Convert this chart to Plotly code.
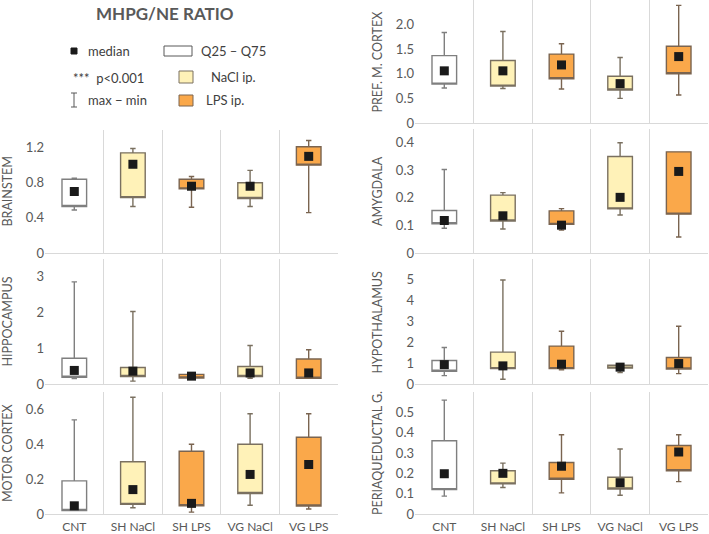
import plotly.graph_objects as go

W, H = 709, 534

categories = ["CNT", "SH NaCl", "SH LPS", "VG NaCl", "VG LPS"]
groups = ["CNT", "NaCl", "LPS", "NaCl", "LPS"]

# ---- data (min, Q25, median, Q75, max) per region ----
brainstem_min = [0.49, 0.53, 0.52, 0.53, 0.46]
brainstem_q1 = [0.53, 0.63, 0.73, 0.62, 1.00]
brainstem_med = [0.70, 1.01, 0.76, 0.76, 1.10]
brainstem_q3 = [0.84, 1.14, 0.84, 0.80, 1.21]
brainstem_max = [0.85, 1.19, 0.87, 0.94, 1.28]

hippocampus_min = [0.15, 0.08, 0.16, 0.16, 0.16]
hippocampus_q1 = [0.19, 0.21, 0.17, 0.21, 0.16]
hippocampus_med = [0.38, 0.36, 0.22, 0.31, 0.31]
hippocampus_q3 = [0.72, 0.46, 0.27, 0.49, 0.70]
hippocampus_max = [2.86, 2.03, 0.28, 1.08, 0.96]

motor_min = [0.02, 0.036, 0.011, 0.05, 0.029]
motor_q1 = [0.02, 0.055, 0.047, 0.118, 0.046]
motor_med = [0.047, 0.14, 0.061, 0.227, 0.284]
motor_q3 = [0.19, 0.30, 0.36, 0.40, 0.44]
motor_max = [0.54, 0.67, 0.40, 0.575, 0.575]

pref_min = [0.71, 0.70, 0.69, 0.50, 0.57]
pref_q1 = [0.79, 0.75, 0.90, 0.67, 1.00]
pref_med = [1.06, 1.06, 1.18, 0.80, 1.35]
pref_q3 = [1.37, 1.27, 1.40, 0.95, 1.56]
pref_max = [1.84, 1.86, 1.61, 1.33, 2.39]

amygdala_min = [0.090, 0.087, 0.083, 0.138, 0.058]
amygdala_q1 = [0.106, 0.116, 0.104, 0.160, 0.141]
amygdala_med = [0.118, 0.135, 0.101, 0.202, 0.296]
amygdala_q3 = [0.154, 0.210, 0.153, 0.350, 0.367]
amygdala_max = [0.303, 0.219, 0.161, 0.400, 0.367]

hypoth_min = [0.40, 0.23, 0.68, 0.55, 0.50]
hypoth_q1 = [0.61, 0.74, 0.74, 0.76, 0.72]
hypoth_med = [0.93, 0.87, 0.95, 0.81, 0.98]
hypoth_q3 = [1.13, 1.53, 1.82, 0.90, 1.27]
hypoth_max = [1.75, 4.99, 2.53, 0.90, 2.77]

pag_min = [0.088, 0.13, 0.104, 0.092, 0.159]
pag_q1 = [0.12, 0.148, 0.171, 0.123, 0.213]
pag_med = [0.198, 0.20, 0.235, 0.154, 0.305]
pag_q3 = [0.36, 0.213, 0.253, 0.181, 0.337]
pag_max = [0.56, 0.25, 0.39, 0.32, 0.39]

region_names = ["BRAINSTEM", "HIPPOCAMPUS", "MOTOR CORTEX", "PREF. M. CORTEX",
                "AMYGDALA", "HYPOTHALAMUS", "PERIAQUEDUCTAL G."]
y_max = [1.4, 3.5, 0.7, 2.5, 0.45, 6, 0.6]
tick_vals = [[0, 0.4, 0.8, 1.2], [0, 1, 2, 3], [0, 0.2, 0.4, 0.6],
             [0, 0.5, 1.0, 1.5, 2.0], [0, 0.1, 0.2, 0.3, 0.4],
             [0, 1, 2, 3, 4, 5], [0, 0.1, 0.2, 0.3, 0.4, 0.5]]
tick_text = [["0", "0.4", "0.8", "1.2"], ["0", "1", "2", "3"], ["0", "0.2", "0.4", "0.6"],
             ["0", "0.5", "1.0", "1.5", "2.0"], ["0", "0.1", "0.2", "0.3", "0.4"],
             ["0", "1", "2", "3", "4", "5"], ["0", "0.1", "0.2", "0.3", "0.4", "0.5"]]

regions = [
    (brainstem_min, brainstem_q1, brainstem_med, brainstem_q3, brainstem_max),
    (hippocampus_min, hippocampus_q1, hippocampus_med, hippocampus_q3, hippocampus_max),
    (motor_min, motor_q1, motor_med, motor_q3, motor_max),
    (pref_min, pref_q1, pref_med, pref_q3, pref_max),
    (amygdala_min, amygdala_q1, amygdala_med, amygdala_q3, amygdala_max),
    (hypoth_min, hypoth_q1, hypoth_med, hypoth_q3, hypoth_max),
    (pag_min, pag_q1, pag_med, pag_q3, pag_max),
]

# ---- layout geometry (pixels) ----
FONT = "Lato, Carlito, Calibri, sans-serif"
TXT = "#595959"
colors = {"CNT": "#FFFFFF", "NaCl": "#FFF2B8", "LPS": "#FAA84A"}
outline = {"CNT": "#7F7F7F", "NaCl": "#7A7060", "LPS": "#7A6450"}

left_x = (45, 338)
right_x = (415, 708)
panel_px = [  # (x range, y top, y bottom)
    (left_x, 130, 253), (left_x, 259, 384), (left_x, 392, 514),
    (right_x, 0, 123), (right_x, 129, 253), (right_x, 259, 384), (right_x, 392, 514),
]
bottom_row = [2, 6]
title_x = [7, 7, 7, 377, 377, 377, 377]


def fx(p):
    return p / W


def fy(p):
    return 1 - p / H


fig = go.Figure()
layout = dict(
    width=W, height=H, autosize=False,
    margin=dict(l=0, r=0, t=0, b=0, pad=0, autoexpand=False),
    paper_bgcolor="white", plot_bgcolor="white", showlegend=False,
    boxmode="overlay", font=dict(family=FONT, color=TXT, size=13),
)
annotations = []
shapes = []

for i, (vals, (xr, yt, yb)) in enumerate(zip(regions, panel_px)):
    n = i + 1
    xa = "x" if n == 1 else f"x{n}"
    ya = "y" if n == 1 else f"y{n}"
    mn, q1, med, q3, mx = vals
    for g in ["CNT", "NaCl", "LPS"]:
        idx = [k for k, gg in enumerate(groups) if gg == g]
        fig.add_trace(go.Box(
            x=[categories[k] for k in idx],
            lowerfence=[mn[k] for k in idx],
            q1=[q1[k] for k in idx],
            median=[q1[k] for k in idx],  # median drawn as square marker instead
            q3=[q3[k] for k in idx],
            upperfence=[mx[k] for k in idx],
            fillcolor=colors[g],
            line=dict(color=outline[g], width=1.4),
            whiskerwidth=0.22, width=0.42,
            boxpoints=False, xaxis=xa, yaxis=ya, hoverinfo="skip",
        ))
    fig.add_trace(go.Scatter(
        x=categories, y=med, mode="markers",
        marker=dict(symbol="square", size=9, color="#1A1A1A"),
        xaxis=xa, yaxis=ya,
    ))
    key_x = "xaxis" if n == 1 else f"xaxis{n}"
    key_y = "yaxis" if n == 1 else f"yaxis{n}"
    layout[key_x] = dict(
        domain=[fx(xr[0]), fx(xr[1])], anchor=ya, type="category",
        categoryorder="array", categoryarray=categories, automargin=False,
        range=[-0.5, 4.5], tickson="boundaries", ticks="",
        showgrid=True, gridcolor="#D9D9D9", gridwidth=1,
        showline=True, linecolor="#D9D9D9", linewidth=1,
        showticklabels=(i in bottom_row), ticklabelstandoff=2,
        tickfont=dict(size=12, color=TXT, family=FONT), fixedrange=True,
    )
    layout[key_y] = dict(
        domain=[fy(yb), fy(yt)], anchor=xa, range=[0, y_max[i]], automargin=False,
        tickvals=tick_vals[i], ticktext=tick_text[i], ticks="",
        showgrid=False, zeroline=False, showline=False,
        tickfont=dict(size=13, color=TXT, family=FONT), fixedrange=True,
    )
    annotations.append(dict(
        text=region_names[i], textangle=-90, showarrow=False,
        xref="paper", yref="paper", x=fx(title_x[i]), y=fy((yt + yb) / 2),
        xanchor="center", yanchor="middle",
        font=dict(size=12.5, color=TXT, family=FONT),
    ))

# ---- title and legend block ----
annotations.append(dict(text="<b>MHPG/NE RATIO</b>", showarrow=False, xref="paper", yref="paper",
                        x=fx(165), y=fy(14), xanchor="center", yanchor="middle",
                        font=dict(size=17, color=TXT, family=FONT)))
legend_txt = [("median", 86, 51), ("Q25 \u2013 Q75", 199, 51), ("***  p<0.001", 71, 78),
              ("NaCl ip.", 209, 77), ("max \u2212 min", 86, 100), ("LPS ip.", 204, 100)]
for t, x, y in legend_txt:
    annotations.append(dict(text=t, showarrow=False, xref="paper", yref="paper",
                            x=fx(x), y=fy(y), xanchor="left", yanchor="middle",
                            font=dict(size=13, color="#404040", family=FONT)))


def rect(x0, y0, x1, y1, fill, line, lw=1):
    return dict(type="rect", xref="paper", yref="paper", x0=fx(x0), x1=fx(x1),
                y0=fy(y1), y1=fy(y0), fillcolor=fill, line=dict(color=line, width=lw))


def seg(x0, y0, x1, y1):
    return dict(type="line", xref="paper", yref="paper", x0=fx(x0), x1=fx(x1),
                y0=fy(y0), y1=fy(y1), line=dict(color="#595959", width=1))


shapes += [
    rect(71, 48, 77, 54, "#1A1A1A", "#1A1A1A"),
    rect(164, 46, 192, 56, "#FFFFFF", "#595959"),
    rect(179, 71, 193, 83, colors["NaCl"], "#7A7060"),
    rect(179, 95, 193, 106, colors["LPS"], "#7A6450"),
    seg(74, 93, 74, 107), seg(71, 93, 77, 93), seg(71, 107, 77, 107),
]

layout["annotations"] = annotations
layout["shapes"] = shapes
fig.update_layout(**layout)
fig.write_html(
    "out.html",
    config={"displayModeBar": False},
    post_script="document.body.style.margin='0';document.body.style.overflow='hidden';",
)
